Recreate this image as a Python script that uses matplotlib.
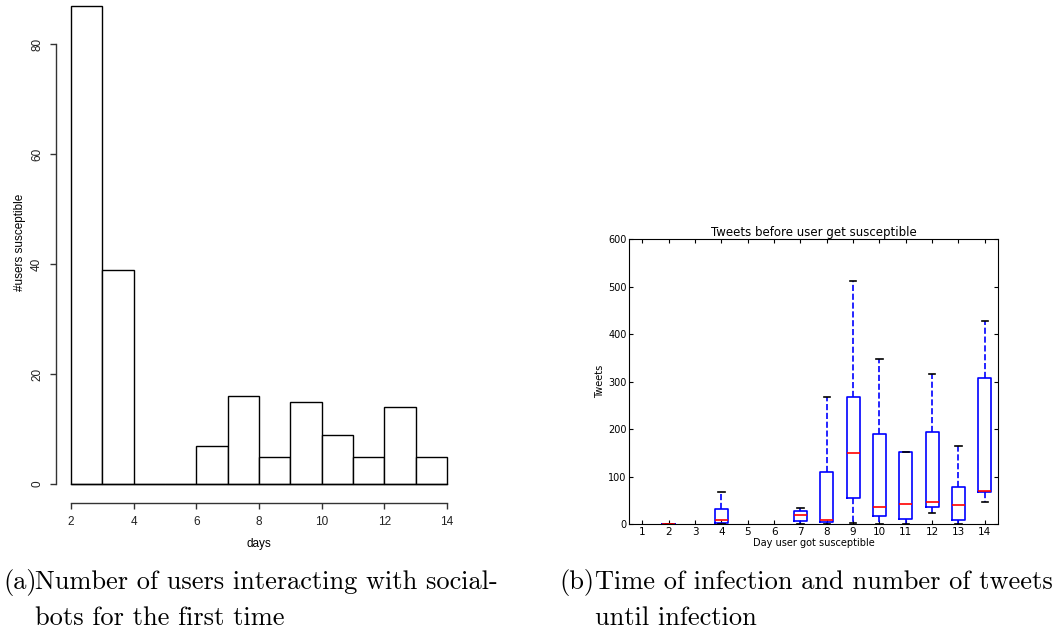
import matplotlib
matplotlib.use("Agg")
import matplotlib.pyplot as plt

# ── (a) histogram data ─────────────────────────────────────────────────────
bin_left = [2, 3, 4, 5, 6, 7, 8, 9, 10, 11, 12, 13]
users_susceptible = [87, 39, 0, 0, 7, 16, 5, 15, 9, 5, 14, 5]

# ── (b) box plot data ──────────────────────────────────────────────────────
days = [2, 4, 7, 8, 9, 10, 11, 12, 13, 14]
whis_lo = [0, 0, 1, 0, 2, 0, 0, 23, 0, 46]
q1 = [0, 2, 7, 4, 56, 18, 11, 37, 10, 68]
median = [0, 8, 19, 10, 150, 37, 43, 47, 40, 69]
q3 = [0, 32, 27, 111, 267, 190, 151, 195, 79, 307]
whis_hi = [0, 68, 35, 268, 512, 347, 151, 316, 164, 427]
day_ticks = list(range(1, 15))

W, H = 1062, 632
fig = plt.figure(figsize=(W / 100, H / 100), dpi=100)

# ── left: R style histogram ────────────────────────────────────────────────
ax1 = fig.add_axes([71 / W, (H - 484) / H, 376 / W, 484 / H])
ax1.bar(bin_left, users_susceptible, width=1, align="edge",
        facecolor="white", edgecolor="black", linewidth=1.0, clip_on=False)
ax1.plot([2, 14], [0, 0], color="black", lw=1.0, clip_on=False)
ax1.set_xlim(2, 14)
ax1.set_ylim(0, 88)
for s in ("top", "right"):
    ax1.spines[s].set_visible(False)
ax1.spines["left"].set_position(("outward", 10.8))
ax1.spines["left"].set_bounds(0, 80)
ax1.spines["bottom"].set_position(("outward", 13.7))
ax1.spines["bottom"].set_bounds(2, 14)
for s in ("left", "bottom"):
    ax1.spines[s].set_linewidth(1.0)
    ax1.spines[s].set_color("#333333")
ax1.set_yticks([0, 20, 40, 60, 80])
ax1.set_xticks([2, 4, 6, 8, 10, 12, 14])
ax1.tick_params(axis="both", length=4.3, width=1.0, color="#333333",
                labelsize=8.5, labelcolor="#222222")
ax1.tick_params(axis="y", pad=5)
ax1.tick_params(axis="x", pad=5)
for lab in ax1.get_yticklabels():
    lab.set_rotation(90)
    lab.set_va("center")
ax1.set_xlabel("days", fontsize=8.5, family="Liberation Sans", labelpad=7)
ax1.set_ylabel("#users susceptible", fontsize=8.5, family="Liberation Sans", labelpad=4)
for lab in ax1.get_xticklabels() + ax1.get_yticklabels():
    lab.set_family("Liberation Sans")

# ── right: matplotlib classic box plot ─────────────────────────────────────
ax2 = fig.add_axes([629.3 / W, (H - 524.3) / H, 368.7 / W, 285.3 / H])
stats = []
for i in range(len(days)):
    stats.append({"whislo": whis_lo[i], "q1": q1[i], "med": median[i],
                  "q3": q3[i], "whishi": whis_hi[i], "fliers": []})
ax2.bxp(stats, positions=days, widths=0.5, showfliers=False,
        boxprops=dict(color="blue", lw=1.2),
        whiskerprops=dict(color="blue", lw=1.2, linestyle="--"),
        capprops=dict(color="black", lw=1.2),
        medianprops=dict(color="red", lw=1.2))
ax2.set_xlim(0.5, 14.5)
ax2.set_ylim(0, 600)
ax2.set_xticks(day_ticks)
ax2.set_xticklabels([str(d) for d in day_ticks])
ax2.set_yticks([0, 100, 200, 300, 400, 500, 600])
ax2.tick_params(direction="in", top=True, right=True, length=3, width=0.8,
                labelsize=7, pad=2)
ax2.tick_params(axis="x", labelsize=7.5)
ax2.set_title("Tweets before user get susceptible", fontsize=8.5, pad=2)
ax2.set_xlabel("Day user got susceptible", fontsize=7, labelpad=1)
ax2.set_ylabel("Tweets", fontsize=7, labelpad=2)

# ── captions ───────────────────────────────────────────────────────────────
cap = dict(family="cmr10", fontsize=19, va="center", ha="left")
fig.text(3 / W, 1 - 582 / H, "(a)", **cap)
fig.text(35 / W, 1 - 582 / H, "Number of users interacting with social-", **cap)
fig.text(35 / W, 1 - 618 / H, "bots for the first time", **cap)
fig.text(559 / W, 1 - 582 / H, "(b)", **cap)
fig.text(595 / W, 1 - 582 / H, "Time of infection and number of tweets", **cap)
fig.text(595 / W, 1 - 618 / H, "until infection", **cap)

fig.savefig("out.png", dpi=100)
